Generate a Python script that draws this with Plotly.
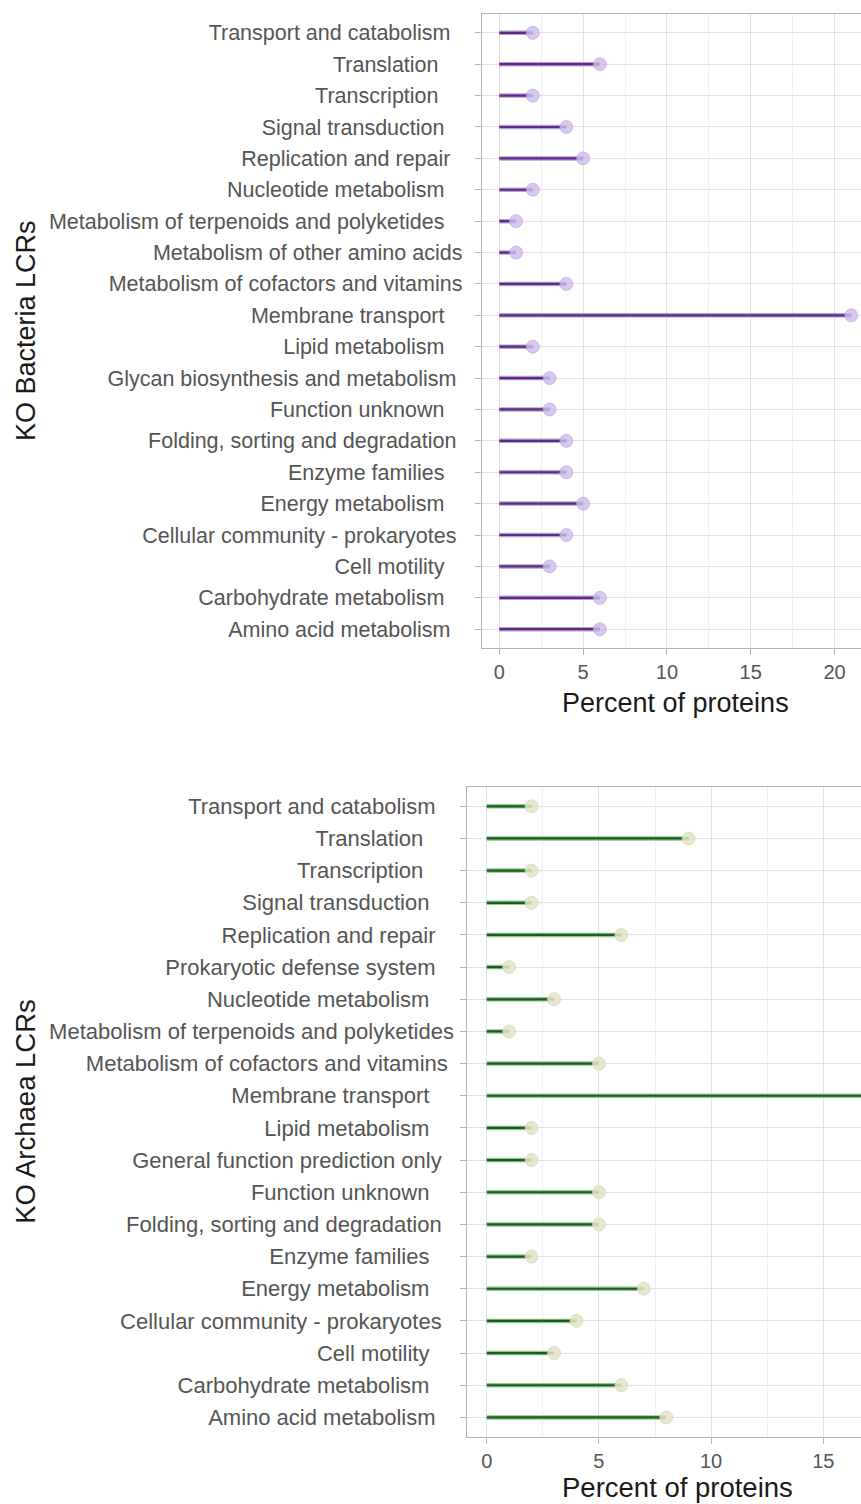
import plotly.graph_objects as go

# ---- data -------------------------------------------------------------
bact_categories = [
    "Transport and catabolism", "Translation", "Transcription",
    "Signal transduction", "Replication and repair", "Nucleotide metabolism",
    "Metabolism of terpenoids and polyketides", "Metabolism of other amino acids",
    "Metabolism of cofactors and vitamins", "Membrane transport",
    "Lipid metabolism", "Glycan biosynthesis and metabolism", "Function unknown",
    "Folding, sorting and degradation", "Enzyme families", "Energy metabolism",
    "Cellular community - prokaryotes", "Cell motility",
    "Carbohydrate metabolism", "Amino acid metabolism",
]
bact_percent = [2, 6, 2, 4, 5, 2, 1, 1, 4, 21, 2, 3, 3, 4, 4, 5, 4, 3, 6, 6]
# trailing spaces carried by each label
bact_label_pad = [3, 5, 5, 4, 3, 4, 4, 1, 1, 4, 4, 2, 4, 2, 4, 4, 2, 4, 4, 3]

arch_categories = [
    "Transport and catabolism", "Translation", "Transcription",
    "Signal transduction", "Replication and repair", "Prokaryotic defense system",
    "Nucleotide metabolism", "Metabolism of terpenoids and polyketides",
    "Metabolism of cofactors and vitamins", "Membrane transport",
    "Lipid metabolism", "General function prediction only", "Function unknown",
    "Folding, sorting and degradation", "Enzyme families", "Energy metabolism",
    "Cellular community - prokaryotes", "Cell motility",
    "Carbohydrate metabolism", "Amino acid metabolism",
]
arch_percent = [2, 9, 2, 2, 6, 1, 3, 1, 5, 17, 2, 2, 5, 5, 2, 7, 4, 3, 6, 8]
arch_label_pad = [3, 5, 5, 4, 3, 3, 4, 0, 1, 4, 4, 2, 4, 2, 4, 4, 2, 4, 4, 3]

x_ticks = [0, 5, 10, 15, 20]
x_title = "Percent of proteins"

# ---- styling ----------------------------------------------------------
W, H = 861, 1504
FONT = "Liberation Sans, Arial, Helvetica, sans-serif"
TICK_GREY = "#555555"
BORDER = "#b3b3b3"
GRID = "#e2e2e2"
GRID_MINOR = "#f0f0f0"


def padded(labels, pads):
    return [lab + "\u00a0" * n for lab, n in zip(labels, pads)]


def segments(cats, vals):
    xs, ys = [], []
    for c, v in zip(cats, vals):
        xs += [0, v, None]
        ys += [c, c, None]
    return xs, ys


def px_to_paper_y(py):
    return (H - py) / H


fig = go.Figure()

panels = [
    dict(cats=bact_categories, vals=bact_percent, pads=bact_label_pad,
         xa="x", ya="y", core="#5a2d80", fringe="#b79bd8",
         dot="rgba(205,188,234,0.8)", dot_line="rgba(180,158,220,0.6)",
         left=481.7, x0=499.3, unit=16.76, top=14.0, bottom=648.0,
         ytitle="KO Bacteria LCRs", tick_size=21.5, title_size=27,
         xtitle_y=703),
    dict(cats=arch_categories, vals=arch_percent, pads=arch_label_pad,
         xa="x2", ya="y2", core="#1d5a1d", fringe="#8fc78f",
         dot="rgba(228,228,200,0.85)", dot_line="rgba(210,210,176,0.6)",
         left=467.3, x0=486.7, unit=22.44, top=787.0, bottom=1436.7,
         ytitle="KO Archaea LCRs", tick_size=22, title_size=27.5,
         xtitle_y=1487),
]

for i, p in enumerate(panels):
    xs, ys = segments(p["cats"], p["vals"])
    fig.add_trace(go.Scatter(x=xs, y=ys, mode="lines", xaxis=p["xa"], yaxis=p["ya"],
                             line=dict(color=p["fringe"], width=4.5),
                             hoverinfo="skip", showlegend=False))
    fig.add_trace(go.Scatter(x=xs, y=ys, mode="lines", xaxis=p["xa"], yaxis=p["ya"],
                             line=dict(color=p["core"], width=2.2),
                             hoverinfo="skip", showlegend=False))
    fig.add_trace(go.Scatter(x=p["vals"], y=p["cats"], mode="markers",
                             xaxis=p["xa"], yaxis=p["ya"],
                             marker=dict(size=13, color=p["dot"],
                                         line=dict(color=p["dot_line"], width=1)),
                             showlegend=False))

    n = len(p["cats"])
    x_lo = (p["left"] - p["x0"]) / p["unit"]
    x_hi = (W - p["x0"]) / p["unit"]
    suffix = "" if i == 0 else str(i + 1)
    fig.update_layout(**{
        "xaxis" + suffix: dict(
            domain=[p["left"] / W, 1.0], range=[x_lo, x_hi], anchor=p["ya"],
            tickvals=x_ticks, ticks="outside", ticklen=6, tickcolor=BORDER,
            tickfont=dict(family=FONT, size=20, color=TICK_GREY),
            showline=True, linecolor=BORDER, linewidth=1, mirror=True,
            showgrid=True, gridcolor=GRID, gridwidth=1, zeroline=False,
            minor=dict(dtick=2.5, tick0=0, showgrid=True, gridcolor=GRID_MINOR,
                       ticklen=0),
        ),
        "yaxis" + suffix: dict(
            domain=[px_to_paper_y(p["bottom"]), px_to_paper_y(p["top"])],
            anchor=p["xa"], type="category",
            categoryorder="array", categoryarray=p["cats"],
            range=[n - 1 + 0.6, -0.6],
            tickvals=p["cats"], ticktext=padded(p["cats"], p["pads"]),
            ticks="outside", ticklen=6, tickcolor=BORDER, ticklabelstandoff=2,
            tickfont=dict(family=FONT, size=p["tick_size"], color=TICK_GREY),
            showline=True, linecolor=BORDER, linewidth=1, mirror=False,
            showgrid=True, gridcolor=GRID, gridwidth=1, zeroline=False,
        ),
    })

    # axis titles
    span_hi = p["x0"] + (max(p["vals"]) * 1.05) * p["unit"]
    fig.add_annotation(text=x_title, xref="paper", yref="paper",
                       x=((p["left"] + span_hi) / 2) / W,
                       y=px_to_paper_y(p["xtitle_y"]),
                       xanchor="center", yanchor="middle", showarrow=False,
                       font=dict(family=FONT, size=p["title_size"], color="#1a1a1a"))
    fig.add_annotation(text=p["ytitle"], xref="paper", yref="paper",
                       x=26 / W, y=px_to_paper_y((p["top"] + p["bottom"]) / 2),
                       xanchor="center", yanchor="middle", textangle=-90,
                       showarrow=False,
                       font=dict(family=FONT, size=p["title_size"], color="#1a1a1a"))

fig.update_layout(width=W, height=H, margin=dict(l=0, r=0, t=0, b=0),
                  paper_bgcolor="white", plot_bgcolor="white",
                  showlegend=False, font=dict(family=FONT))

fig.write_html("out.html")
